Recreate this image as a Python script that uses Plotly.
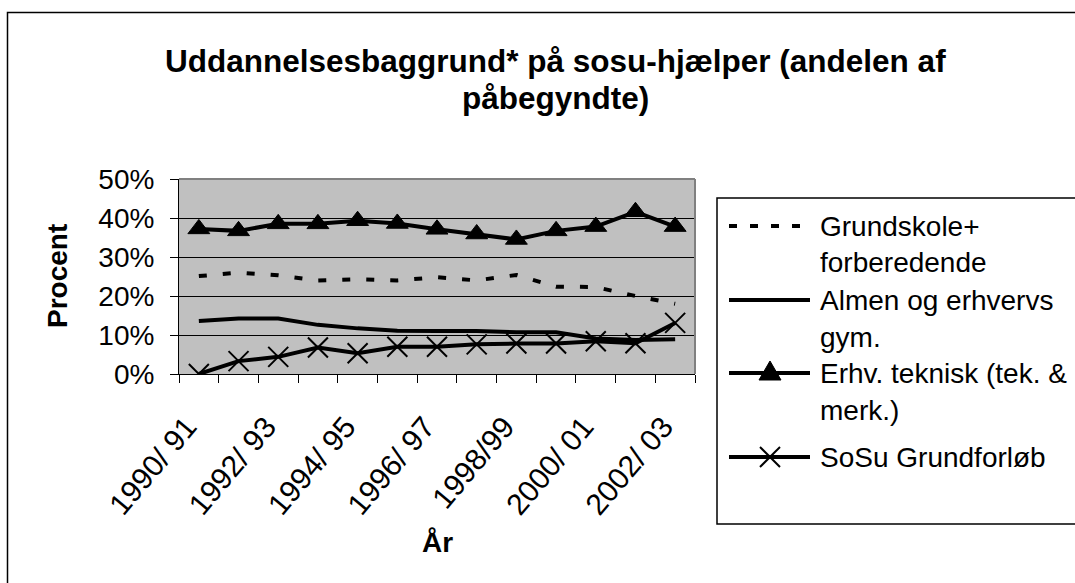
import plotly.graph_objects as go

# ---------------- data ----------------
categories = ["1990/ 91", "1991/ 92", "1992/ 93", "1993/ 94", "1994/ 95", "1995/ 96",
              "1996/ 97", "1997/ 98", "1998/99", "1999/ 00", "2000/ 01", "2001/ 02", "2002/ 03"]
tick_labels = ["1990/ 91", "", "1992/ 93", "", "1994/ 95", "", "1996/ 97", "",
               "1998/99", "", "2000/ 01", "", "2002/ 03"]
grundskole = [25.1, 26.0, 25.3, 24.0, 24.3, 24.0, 24.8, 24.0, 25.4, 22.4, 22.3, 20.0, 18.0]
almen = [13.6, 14.2, 14.2, 12.6, 11.7, 11.1, 11.0, 11.0, 10.7, 10.7, 9.1, 8.7, 8.9]
erhv = [37.2, 36.7, 38.5, 38.5, 39.3, 38.6, 37.1, 35.9, 34.5, 36.7, 37.8, 41.6, 37.8]
sosu = [0.0, 3.3, 4.4, 6.8, 5.3, 7.0, 7.0, 7.6, 7.8, 7.8, 8.4, 7.9, 13.1]
series_names = ["Grundskole+<br>forberedende", "Almen og erhvervs<br>gym.",
                "Erhv. teknisk (tek. &<br>merk.)", "SoSu Grundforløb"]
y_ticks = [0, 10, 20, 30, 40, 50]
y_tick_labels = ["0%", "10%", "20%", "30%", "40%", "50%"]

# ---------------- layout geometry (pixels) ----------------
W, H = 1075, 583
L, R, T, B = 179, 695, 179, 374          # plot area edges
PW, PH = R - L, B - T

def px(x):
    return (x - L) / PW

def py(y):
    return (B - y) / PH

FONT = "Liberation Sans, Arial, sans-serif"

fig = go.Figure()
fig.add_trace(go.Scatter(x=categories, y=grundskole, mode="lines", name="g",
                         line=dict(color="black", width=4, dash="8px,16px"),
                         showlegend=False))
fig.add_trace(go.Scatter(x=categories, y=almen, mode="lines", name="a",
                         line=dict(color="black", width=4), showlegend=False))
fig.add_trace(go.Scatter(x=categories, y=erhv, mode="lines+markers", name="e",
                         line=dict(color="black", width=4),
                         marker=dict(symbol="triangle-up", size=19, color="black",
                                     line=dict(color="black", width=1)),
                         showlegend=False))
fig.add_trace(go.Scatter(x=categories, y=sosu, mode="lines+markers", name="s",
                         line=dict(color="black", width=4),
                         marker=dict(symbol="x-thin", size=20, color="black",
                                     line=dict(color="black", width=2)),
                         showlegend=False))

fig.update_xaxes(type="category", categoryorder="array", categoryarray=categories,
                 range=[-0.5, len(categories) - 0.5],
                 tickmode="array", tickvals=categories, ticktext=tick_labels,
                 tickson="boundaries", ticks="outside", ticklen=8, tickcolor="black",
                 tickangle=-50, tickfont=dict(family=FONT, size=30, color="black"),
                 showline=True, linecolor="black", linewidth=1, showgrid=False,
                 zeroline=False, ticklabelstandoff=22, ticklabelshift=-12)
fig.update_yaxes(range=[0, 50], tickmode="array", tickvals=y_ticks, ticktext=y_tick_labels,
                 ticks="outside", ticklen=8, tickcolor="black",
                 tickfont=dict(family=FONT, size=28, color="black"),
                 showline=True, linecolor="black", linewidth=1,
                 showgrid=True, gridcolor="black", gridwidth=1, zeroline=False,
                 ticklabelstandoff=10)

shapes = []
# plot area grey border (top and right)
shapes.append(dict(type="line", xref="paper", yref="paper", x0=0, x1=1, y0=1, y1=1,
                   line=dict(color="#808080", width=2), layer="above"))
shapes.append(dict(type="line", xref="paper", yref="paper", x0=1, x1=1, y0=0, y1=1,
                   line=dict(color="#808080", width=2), layer="above"))
# outer chart border
shapes.append(dict(type="rect", xref="paper", yref="paper",
                   x0=px(7.5), x1=px(W + 20), y0=py(12.5), y1=py(H + 20),
                   line=dict(color="black", width=1.5), layer="below"))
# legend box
shapes.append(dict(type="rect", xref="paper", yref="paper",
                   x0=px(717), x1=px(W + 20), y0=py(198), y1=py(524),
                   line=dict(color="black", width=1.5), fillcolor="white", layer="below"))

# legend samples
leg_x0, leg_x1, leg_text_x, leg_mark_x = 729, 810, 818, 770
leg_line_y = [226, 300, 373, 457]
leg_text_y = [[226, 262], [300, 337], [373, 410], [457]]
shapes.append(dict(type="line", xref="paper", yref="paper", x0=px(leg_x0), x1=px(leg_x1),
                   y0=py(leg_line_y[0]), y1=py(leg_line_y[0]),
                   line=dict(color="black", width=4, dash="8px,13px")))
for yy in leg_line_y[1:]:
    shapes.append(dict(type="line", xref="paper", yref="paper", x0=px(leg_x0), x1=px(leg_x1),
                       y0=py(yy), y1=py(yy), line=dict(color="black", width=4)))
# triangle glyph
ty = leg_line_y[2]
tri = "M {:.5f},{:.5f} L {:.5f},{:.5f} L {:.5f},{:.5f} Z".format(
    px(leg_mark_x - 11), py(ty + 7), px(leg_mark_x + 11), py(ty + 7),
    px(leg_mark_x), py(ty - 12))
shapes.append(dict(type="path", xref="paper", yref="paper", path=tri,
                   fillcolor="black", line=dict(color="black", width=1)))
# x glyph
sy = leg_line_y[3]
for d in (1, -1):
    shapes.append(dict(type="line", xref="paper", yref="paper",
                       x0=px(leg_mark_x - 10), x1=px(leg_mark_x + 10),
                       y0=py(sy - 10 * d), y1=py(sy + 10 * d),
                       line=dict(color="black", width=2)))

annotations = []
for name, ys in zip(series_names, leg_text_y):
    for line_txt, yy in zip(name.split("<br>"), ys):
        annotations.append(dict(text=line_txt, xref="paper", yref="paper",
                                x=px(leg_text_x), y=py(yy), xanchor="left", yanchor="middle",
                                showarrow=False,
                                font=dict(family=FONT, size=28, color="black")))

# title
title_lines = ["Uddannelsesbaggrund* på sosu-hjælper (andelen af", "påbegyndte)"]
for txt, yy in zip(title_lines, [61, 98]):
    annotations.append(dict(text=txt, xref="paper", yref="paper", x=px(555), y=py(yy),
                            xanchor="center", yanchor="middle", showarrow=False,
                            font=dict(family=FONT, size=31.5, color="black", weight="bold")))
# axis titles
annotations.append(dict(text="Procent", xref="paper", yref="paper", x=px(57), y=py(276),
                        xanchor="center", yanchor="middle", textangle=-90, showarrow=False,
                        font=dict(family=FONT, size=28, color="black", weight="bold")))
annotations.append(dict(text="År", xref="paper", yref="paper", x=px(437), y=py(542),
                        xanchor="center", yanchor="middle", showarrow=False,
                        font=dict(family=FONT, size=28, color="black", weight="bold")))

fig.update_layout(width=W, height=H,
                  margin=dict(l=L, r=W - R, t=T, b=H - B, autoexpand=False),
                  paper_bgcolor="white", plot_bgcolor="#C0C0C0",
                  shapes=shapes, annotations=annotations, showlegend=False)

fig.write_html("out.html")
